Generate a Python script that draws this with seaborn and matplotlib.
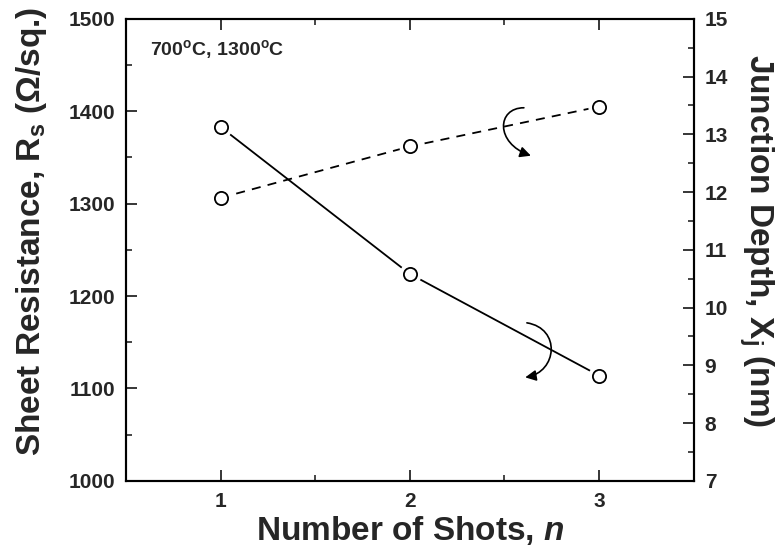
import matplotlib
matplotlib.use("Agg")
import matplotlib.pyplot as plt
from matplotlib.ticker import MultipleLocator
from matplotlib.patches import FancyArrowPatch
from matplotlib.path import Path
import seaborn as sns
import pandas as pd

# data
shots = [1, 2, 3]
sheet_resistance = [1383, 1224, 1114]
junction_depth = [11.90, 12.79, 13.48]
x_ticks = [1, 2, 3]

sns.set_style("ticks")
plt.rcParams['font.family'] = ['Liberation Sans', 'DejaVu Sans']
plt.rcParams['font.weight'] = 'bold'
plt.rcParams['mathtext.fontset'] = 'custom'
plt.rcParams['mathtext.rm'] = 'Liberation Sans:bold'
plt.rcParams['mathtext.it'] = 'Liberation Sans:bold:italic'
plt.rcParams['mathtext.bf'] = 'Liberation Sans:bold'

df = pd.DataFrame({"n": shots, "Rs": sheet_resistance, "Xj": junction_depth})

fig = plt.figure(figsize=(7.82, 5.54), dpi=100)
ax = fig.add_axes([0.161, 0.132, 0.726, 0.834])
ax2 = ax.twinx()

lw = 1.3
# Rs line (solid)
sns.lineplot(data=df, x="n", y="Rs", ax=ax, color="black", linewidth=lw, zorder=2)
ax.plot(df["n"], df["Rs"], linestyle="none", marker="o", markersize=15,
        markerfacecolor="white", markeredgecolor="white", zorder=3)
ax.plot(df["n"], df["Rs"], linestyle="none", marker="o", markersize=9.5,
        markerfacecolor="white", markeredgecolor="black", markeredgewidth=1.3, zorder=4)

# Xj line (dashed)
sns.lineplot(data=df, x="n", y="Xj", ax=ax2, color="black", linewidth=lw,
             linestyle=(0, (5, 4)), zorder=2)
ax2.plot(df["n"], df["Xj"], linestyle="none", marker="o", markersize=15,
         markerfacecolor="white", markeredgecolor="white", zorder=3)
ax2.plot(df["n"], df["Xj"], linestyle="none", marker="o", markersize=9.5,
         markerfacecolor="white", markeredgecolor="black", markeredgewidth=1.3, zorder=4)

ax.set_xlim(0.5, 3.5)
ax.set_ylim(1000, 1500)
ax2.set_ylim(7, 15)

ax.set_xticks(x_ticks)
ax.set_xticklabels([str(t) for t in x_ticks])
ax.xaxis.set_minor_locator(MultipleLocator(0.5))
ax.yaxis.set_major_locator(MultipleLocator(100))
ax.yaxis.set_minor_locator(MultipleLocator(50))
ax2.yaxis.set_major_locator(MultipleLocator(1))
ax2.yaxis.set_minor_locator(MultipleLocator(0.5))

ax.tick_params(axis="x", which="both", direction="in", top=True, bottom=True)
ax.tick_params(axis="y", which="both", direction="in", left=True, right=False)
ax.tick_params(which="major", length=8, width=1.3, labelsize=15, pad=8)
ax.tick_params(which="minor", length=4, width=1.2)
ax2.tick_params(axis="y", which="both", direction="in", right=True, left=False)
ax2.tick_params(which="major", length=8, width=1.3, labelsize=15, pad=8)
ax2.tick_params(which="minor", length=4, width=1.2)
for a in (ax, ax2):
    for lab in a.get_xticklabels() + a.get_yticklabels():
        lab.set_fontweight("bold")
    for s in a.spines.values():
        s.set_linewidth(1.5)
        s.set_color("black")

ax.set_xlabel("Number of Shots, $\\mathit{n}$", fontsize=24, fontweight="bold", labelpad=2)
ax.set_ylabel("Sheet Resistance, R$_\\mathrm{s}$ (Ω/sq.)", fontsize=24, fontweight="bold", labelpad=14)
ax2.set_ylabel("Junction Depth, X$_\\mathrm{j}$ (nm)", fontsize=24, fontweight="bold",
               rotation=270, labelpad=34)
ax.yaxis.label.set_y(0.539)
ax2.yaxis.label.set_y(0.519)

ax.text(0.042, 0.933, "700$^\\mathrm{o}$C, 1300$^\\mathrm{o}$C", transform=ax.transAxes,
        fontsize=14, fontweight="bold", va="center", ha="left")

# curved arrows (hand-drawn style hooks)
arr_dash = Path([(2.603, 13.46), (2.46, 13.46), (2.45, 12.85), (2.64, 12.63)],
                [Path.MOVETO, Path.CURVE4, Path.CURVE4, Path.CURVE4])
ax2.add_patch(FancyArrowPatch(path=arr_dash, arrowstyle="-|>", color="black", lw=1.2,
                              mutation_scale=16, transform=ax2.transData, zorder=5))
arr_solid = Path([(2.619, 1171), (2.80, 1165), (2.78, 1118), (2.61, 1112)],
                 [Path.MOVETO, Path.CURVE4, Path.CURVE4, Path.CURVE4])
ax.add_patch(FancyArrowPatch(path=arr_solid, arrowstyle="-|>", color="black", lw=1.2,
                             mutation_scale=16, transform=ax.transData, zorder=5))

fig.savefig("out.png", dpi=100)
